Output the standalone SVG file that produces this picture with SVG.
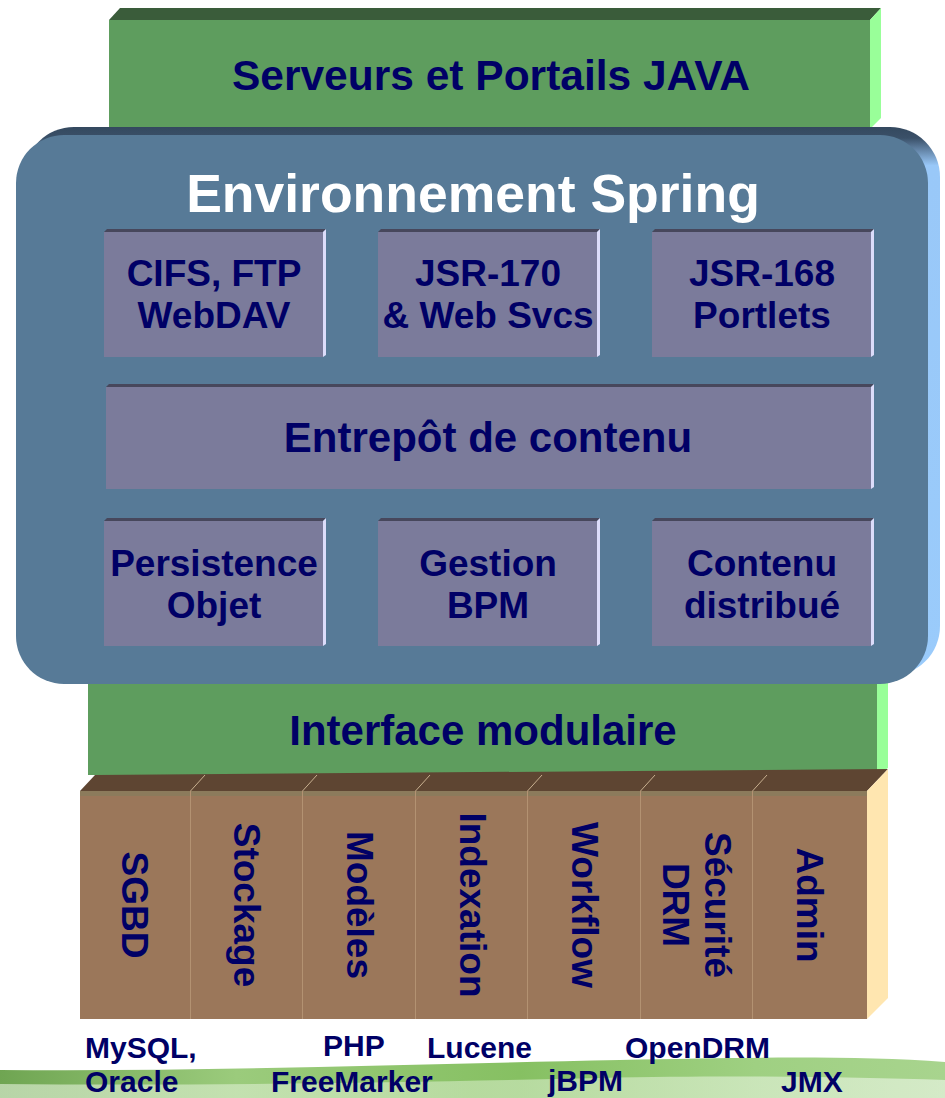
<svg xmlns="http://www.w3.org/2000/svg" width="945" height="1098" viewBox="0 0 945 1098">
<defs>
<style>
.t{font-family:"Liberation Sans",Arial,sans-serif;font-weight:bold;fill:#000066;text-anchor:middle}
.l{text-anchor:start}
.inner{fill:#7B7B9B}
.innerTop{fill:#47475C}
.innerSide{fill:#DCDCFA}
.gFront{fill:#5E9D5E}
.gTop{fill:#3A5C3A}
.gSide{fill:#99FF99}
.div{stroke:#B39272;stroke-width:1}
.divTop{stroke:#C8B090;stroke-width:1}
</style>
<linearGradient id="blueBack" x1="0" y1="0" x2="0" y2="1">
<stop offset="0" stop-color="#34495F"/>
<stop offset="0.02" stop-color="#3A5068"/>
<stop offset="0.07" stop-color="#99C8F8"/>
<stop offset="1" stop-color="#9ACBFB"/>
</linearGradient>
<linearGradient id="swoosh" x1="0" y1="0" x2="1" y2="0">
<stop offset="0" stop-color="#6FA552"/>
<stop offset="0.25" stop-color="#9BCB7C"/>
<stop offset="0.55" stop-color="#86C062"/>
<stop offset="0.8" stop-color="#9FD082"/>
<stop offset="1" stop-color="#A8D48E"/>
</linearGradient>
<linearGradient id="swoosh2" x1="0" y1="0" x2="1" y2="0">
<stop offset="0" stop-color="#E8F4E0"/>
<stop offset="0.5" stop-color="#D4EBC4"/>
<stop offset="1" stop-color="#F2F9EE"/>
</linearGradient>
</defs>
<rect width="945" height="1098" fill="#ffffff"/>

<g id="swoosh-bg">
<path d="M0,1070 C200,1072 420,1064 620,1060 C760,1057 860,1056 945,1062 L945,1098 L0,1098 Z" fill="url(#swoosh)"/>
<path d="M0,1084 C220,1086 430,1082 600,1078 C740,1075 850,1077 945,1080 L945,1098 L0,1098 Z" fill="url(#swoosh2)" opacity="0.6"/>
</g>

<g id="serveurs">
<polygon class="gTop" points="109,20 120,8 881,8 870,20"/>
<polygon class="gSide" points="870,20 881,8 881,118 870,129"/>
<rect class="gFront" x="109" y="20" width="761" height="112"/>
<text class="t" x="491" y="90" font-size="42.5">Serveurs et Portails JAVA</text>
</g>

<g id="interface">
<polygon class="gSide" points="877,660 888,650 888,768 877,775"/>
<rect class="gFront" x="88" y="650" width="789" height="125"/>
<text class="t" x="483" y="745" font-size="42">Interface modulaire</text>
</g>

<g id="spring">
<rect x="24" y="127" width="916" height="549" rx="50" ry="50" fill="url(#blueBack)"/>
<rect x="16" y="135" width="912" height="549" rx="48" ry="48" fill="#577A97"/>
<text class="t" x="473" y="212" font-size="53.5" style="fill:#ffffff">Environnement Spring</text>
</g>

<g id="cifs">
<polygon class="innerTop" points="104,232 107,229 326,229 323,232"/>
<polygon class="innerSide" points="323,232 326,229 326,355 323,357"/>
<rect class="inner" x="104" y="232" width="219" height="125"/>
<text class="t" x="214" y="286" font-size="37">CIFS, FTP</text>
<text class="t" x="214" y="328" font-size="37">WebDAV</text>
</g>
<g id="jsr170">
<polygon class="innerTop" points="378,232 381,229 600,229 597,232"/>
<polygon class="innerSide" points="597,232 600,229 600,355 597,357"/>
<rect class="inner" x="378" y="232" width="219" height="125"/>
<text class="t" x="488" y="286" font-size="37">JSR-170</text>
<text class="t" x="488" y="328" font-size="37">&amp; Web Svcs</text>
</g>
<g id="jsr168">
<polygon class="innerTop" points="652,232 655,229 874,229 871,232"/>
<polygon class="innerSide" points="871,232 874,229 874,355 871,357"/>
<rect class="inner" x="652" y="232" width="219" height="125"/>
<text class="t" x="762" y="286" font-size="37">JSR-168</text>
<text class="t" x="762" y="328" font-size="37">Portlets</text>
</g>

<g id="entrepot">
<polygon class="innerTop" points="106,387 109,384 874,384 871,387"/>
<polygon class="innerSide" points="871,387 874,384 874,487 871,489"/>
<rect class="inner" x="106" y="387" width="765" height="102"/>
<text class="t" x="488" y="452" font-size="42">Entrepôt de contenu</text>
</g>

<g id="persistence">
<polygon class="innerTop" points="104,521 107,518 326,518 323,521"/>
<polygon class="innerSide" points="323,521 326,518 326,644 323,646"/>
<rect class="inner" x="104" y="521" width="219" height="125"/>
<text class="t" x="214" y="576" font-size="37">Persistence</text>
<text class="t" x="214" y="618" font-size="37">Objet</text>
</g>
<g id="bpm">
<polygon class="innerTop" points="378,521 381,518 600,518 597,521"/>
<polygon class="innerSide" points="597,521 600,518 600,644 597,646"/>
<rect class="inner" x="378" y="521" width="219" height="125"/>
<text class="t" x="488" y="576" font-size="37">Gestion</text>
<text class="t" x="488" y="618" font-size="37">BPM</text>
</g>
<g id="distribue">
<polygon class="innerTop" points="652,521 655,518 874,518 871,521"/>
<polygon class="innerSide" points="871,521 874,518 874,644 871,646"/>
<rect class="inner" x="652" y="521" width="219" height="125"/>
<text class="t" x="762" y="576" font-size="37">Contenu</text>
<text class="t" x="762" y="618" font-size="37">distribué</text>
</g>

<g id="modules">
<polygon points="80,791 95,775 888,769 867,791" fill="#5E4532"/>
<polygon points="867,791 888,769 888,998 867,1019" fill="#FFE6B0"/>
<rect x="80" y="791" width="787" height="228" fill="#9B775A"/>
<rect x="80" y="791" width="787" height="5" fill="#8C7B5C"/>
<line class="div" x1="190.5" y1="791" x2="190.5" y2="1019"/>
<line class="div" x1="302.5" y1="791" x2="302.5" y2="1019"/>
<line class="div" x1="415.5" y1="791" x2="415.5" y2="1019"/>
<line class="div" x1="527.5" y1="791" x2="527.5" y2="1019"/>
<line class="div" x1="640.5" y1="791" x2="640.5" y2="1019"/>
<line class="div" x1="752.5" y1="791" x2="752.5" y2="1019"/>
<line class="divTop" x1="190.5" y1="791" x2="205" y2="775"/>
<line class="divTop" x1="302.5" y1="791" x2="317" y2="775"/>
<line class="divTop" x1="415.5" y1="791" x2="430" y2="775"/>
<line class="divTop" x1="527.5" y1="791" x2="542" y2="775"/>
<line class="divTop" x1="640.5" y1="791" x2="655" y2="775"/>
<line class="divTop" x1="752.5" y1="791" x2="767" y2="775"/>
</g>

<g id="sgbd"><text class="t" font-size="37" transform="translate(122,905) rotate(90)">SGBD</text></g>
<g id="stockage"><text class="t" font-size="37" transform="translate(234,905) rotate(90)">Stockage</text></g>
<g id="modeles"><text class="t" font-size="37" transform="translate(347,905) rotate(90)">Modèles</text></g>
<g id="indexation"><text class="t" font-size="37" transform="translate(460,905) rotate(90)">Indexation</text></g>
<g id="workflow"><text class="t" font-size="37" transform="translate(572,905) rotate(90)">Workflow</text></g>
<g id="securite">
<text class="t" font-size="37" transform="translate(705,905) rotate(90)">Sécurité</text>
<text class="t" font-size="37" transform="translate(663,905) rotate(90)">DRM</text>
</g>
<g id="admin"><text class="t" font-size="37" transform="translate(797,905) rotate(90)">Admin</text></g>

<g id="labels">
<text class="t l" x="85" y="1057.5" font-size="30">MySQL,</text>
<text class="t l" x="85" y="1091.5" font-size="30">Oracle</text>
<text class="t l" x="323" y="1056" font-size="30">PHP</text>
<text class="t l" x="271" y="1091.5" font-size="30">FreeMarker</text>
<text class="t l" x="427" y="1058" font-size="30">Lucene</text>
<text class="t l" x="625" y="1058" font-size="30">OpenDRM</text>
<text class="t l" x="548" y="1091" font-size="30">jBPM</text>
<text class="t l" x="781" y="1091.5" font-size="30">JMX</text>
</g>
</svg>
